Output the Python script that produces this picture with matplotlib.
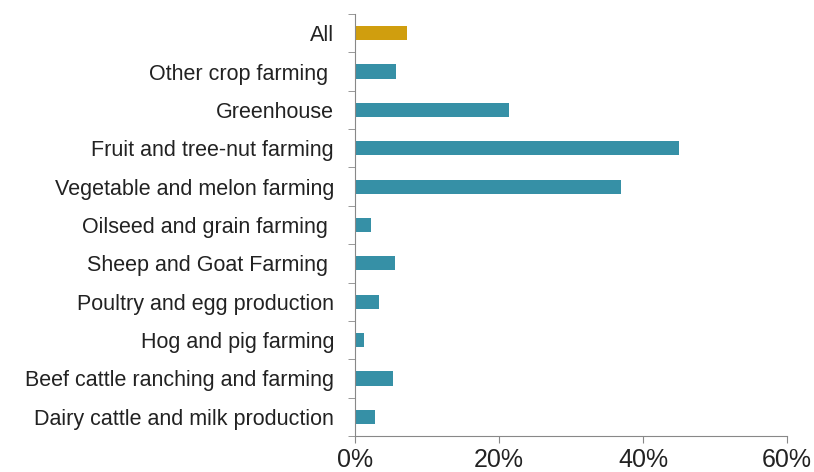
import numpy as np
import matplotlib.pyplot as plt
from matplotlib.ticker import FuncFormatter

plt.rcParams['font.family'] = ['Liberation Sans', 'DejaVu Sans']

# categories from bottom to top
categories = ["Dairy cattle and milk production", "Beef cattle ranching and farming",
              "Hog and pig farming", "Poultry and egg production", "Sheep and Goat Farming ",
              "Oilseed and grain farming ", "Vegetable and melon farming",
              "Fruit and tree-nut farming", "Greenhouse", "Other crop farming ", "All"]
values = [2.8, 5.3, 1.3, 3.4, 5.6, 2.3, 36.9, 45.0, 21.4, 5.7, 7.2]
xticks = [0, 20, 40, 60]

teal = '#3690A6'
gold = '#D09E0E'
colors = [gold if c == "All" else teal for c in categories]

fig = plt.figure(figsize=(8.14, 4.72), dpi=100)
ax = fig.add_axes([0.436, 0.0763, 0.531, 0.894])

y = np.arange(len(categories))
ax.barh(y, values, height=0.37, color=colors)

ax.set_xlim(0, 60)
ax.set_ylim(-0.5, len(categories) - 0.5)
ax.set_xticks(xticks)
ax.xaxis.set_major_formatter(FuncFormatter(lambda v, p: f"{v:.0f}%"))

ax.set_yticks(y)
ax.set_yticklabels(categories)
ax.set_yticks(np.arange(-0.5, len(categories)), minor=True)

# 去掉边框
ax.spines['right'].set_color('none')
ax.spines['top'].set_color('none')
ax.spines['left'].set_color('#888888')
ax.spines['bottom'].set_color('#888888')

ax.tick_params(axis='y', which='major', length=0, pad=15, labelsize=15.5, labelcolor='#222222')
ax.tick_params(axis='y', which='minor', length=5, color='#888888', direction='out')
ax.tick_params(axis='x', length=5, color='#888888', pad=4, labelsize=18, labelcolor='#222222')

fig.savefig('out.png', dpi=100)
